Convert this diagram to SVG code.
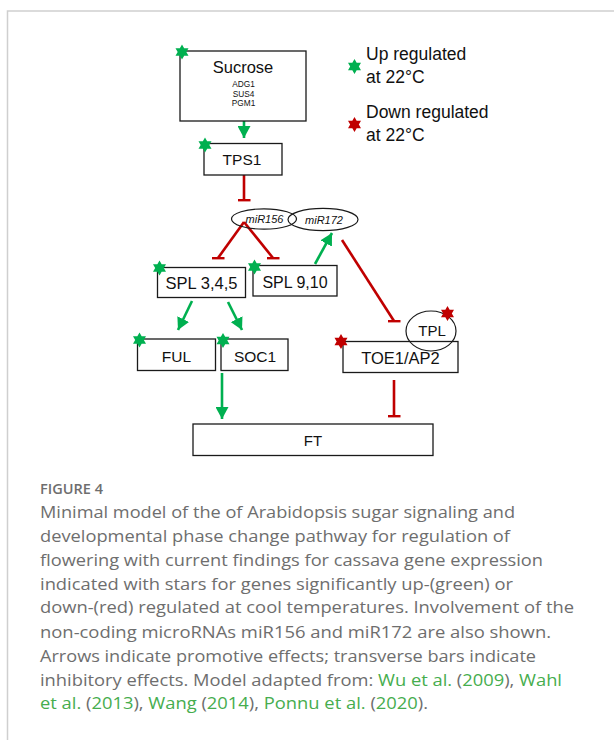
<svg xmlns="http://www.w3.org/2000/svg" xmlns:xlink="http://www.w3.org/1999/xlink" width="614" height="740" viewBox="0 0 614 740">
<style>
.box{fill:#fff;stroke:#1a1a1a;stroke-width:1.3}
.ell{fill:none;stroke:#1a1a1a;stroke-width:1.2}
.lbl{font-family:"Liberation Sans",Arial,sans-serif;fill:#111;text-anchor:middle}
.sm{font-family:"Liberation Sans",Arial,sans-serif;fill:#111;text-anchor:middle;font-size:8.3px}
.mir{font-family:"Liberation Sans",Arial,sans-serif;fill:#111;text-anchor:middle;font-style:italic;font-size:11px}
.leg{font-family:"Liberation Sans",Arial,sans-serif;fill:#111;font-size:17.5px}
.act{stroke:#00b050;stroke-width:2.6;fill:none;marker-end:url(#arrowG)}
.inh{stroke:#c00000;stroke-width:2.6;fill:none;marker-end:url(#barR)}
.cap{font-family:"Open Sans","Liberation Sans",sans-serif;fill:#6e6e6e;font-size:16px}
.lnk{fill:#46ad4e}
.up{fill:#00b050}
.dn{fill:#c00000}
</style>
<defs>
<path id="star" d="M0,-7.5 L2.165,-3.75 L6.5,-3.75 L4.33,0 L6.5,3.75 L2.165,3.75 L0,7.5 L-2.165,3.75 L-6.5,3.75 L-4.33,0 L-6.5,-3.75 L-2.165,-3.75 Z"/>
<marker id="arrowG" viewBox="0 0 12 13" markerUnits="userSpaceOnUse" markerWidth="12" markerHeight="13" refX="12" refY="6.5" orient="auto">
<path d="M0,0 L12,6.5 L0,13 Z" fill="#00b050"/>
</marker>
<marker id="barR" viewBox="-6.5 -1.5 13 3" markerUnits="userSpaceOnUse" markerWidth="13" markerHeight="3" refX="0" refY="0" orient="0">
<rect x="-6.5" y="-1.4" width="13" height="2.8" fill="#c00000"/>
</marker>
</defs>
<rect x="0" y="0" width="614" height="740" fill="#fff"/>
<path d="M7.5,740 V11 H614" fill="none" stroke="#cfcfcf" stroke-width="1.5"/>

<g id="connectors">
<line class="act" x1="244" y1="121" x2="244" y2="138"/>
<line class="inh" x1="244" y1="175" x2="244" y2="200"/>
<line class="inh" x1="244" y1="222" x2="218" y2="258"/>
<line class="inh" x1="244" y1="222" x2="273" y2="258"/>
<line class="act" x1="315" y1="264" x2="332" y2="233"/>
<line class="inh" x1="342" y1="240" x2="394" y2="321"/>
<line class="act" x1="192" y1="301" x2="178" y2="330"/>
<line class="act" x1="228" y1="302" x2="242" y2="330"/>
<line class="act" x1="222" y1="373" x2="222" y2="419"/>
<line class="inh" x1="394" y1="380" x2="394" y2="416"/>
</g>

<g id="sucrose">
<rect class="box" x="180" y="51" width="126" height="70"/>
<text class="lbl" x="243" y="73" font-size="16.5">Sucrose</text>
<text class="sm" x="243.5" y="87.3">ADG1</text>
<text class="sm" x="243.5" y="96.7">SUS4</text>
<text class="sm" x="243.5" y="106">PGM1</text>
<use href="#star" class="up" x="182" y="52"/>
</g>

<g id="tps1">
<rect class="box" x="204" y="143.5" width="78" height="31.5"/>
<text class="lbl" x="242" y="165" font-size="15.5">TPS1</text>
<use href="#star" class="up" x="205" y="145"/>
</g>

<g id="mir156">
<ellipse class="ell" cx="264" cy="219" rx="32.5" ry="10.2"/>
<text class="mir" x="264.5" y="222.5">miR156</text>
</g>

<g id="mir172">
<ellipse class="ell" cx="323" cy="219.5" rx="35" ry="11.2"/>
<text class="mir" x="324" y="223.5">miR172</text>
</g>

<g id="spl345">
<rect class="box" x="157.5" y="267.5" width="88" height="30"/>
<text class="lbl" x="201.5" y="288.5" font-size="16.5">SPL 3,4,5</text>
<use href="#star" class="up" x="159.5" y="268"/>
</g>

<g id="spl910">
<rect class="box" x="253" y="265.5" width="84" height="30.5"/>
<text class="lbl" x="295" y="288" font-size="16">SPL 9,10</text>
<use href="#star" class="up" x="254.5" y="267"/>
</g>

<g id="ful">
<rect class="box" x="137.5" y="339" width="78" height="31.5"/>
<text class="lbl" x="176.5" y="362" font-size="15.5">FUL</text>
<use href="#star" class="up" x="139.5" y="340"/>
</g>

<g id="soc1">
<rect class="box" x="221" y="339" width="67" height="31.5"/>
<text class="lbl" x="255" y="362" font-size="15.5">SOC1</text>
<use href="#star" class="up" x="223" y="340.5"/>
</g>

<g id="toe1ap2">
<rect class="box" x="343" y="341.5" width="115" height="31"/>
<text class="lbl" x="400.5" y="364" font-size="16.5">TOE1/AP2</text>
<use href="#star" class="dn" x="341" y="341.5"/>
</g>

<g id="tpl">
<ellipse class="ell" cx="431" cy="331" rx="25" ry="20"/>
<text class="lbl" x="432" y="336" font-size="15">TPL</text>
<use href="#star" class="dn" x="447.5" y="313.5"/>
</g>

<g id="ft">
<rect class="box" x="193" y="424" width="240" height="31.5"/>
<text class="lbl" x="313" y="446" font-size="15">FT</text>
</g>

<g id="legend">
<use href="#star" class="up" x="354.5" y="66.5"/>
<text class="leg" x="366" y="59.5">Up regulated</text>
<text class="leg" x="366" y="82.5">at 22°C</text>
<use href="#star" class="dn" x="354.5" y="124.5"/>
<text class="leg" x="366" y="118">Down regulated</text>
<text class="leg" x="366" y="140.5">at 22°C</text>
</g>

<g id="caption">
<text x="40" y="493.5" font-family="'Open Sans','Liberation Sans',sans-serif" font-size="13.5" font-weight="600" fill="#6e6e6e" textLength="63" lengthAdjust="spacingAndGlyphs">FIGURE 4</text>
<text class="cap" x="40" y="518.3" textLength="475" lengthAdjust="spacingAndGlyphs">Minimal model of the of Arabidopsis sugar signaling and</text>
<text class="cap" x="40" y="541.7" textLength="470" lengthAdjust="spacingAndGlyphs">developmental phase change pathway for regulation of</text>
<text class="cap" x="40" y="565.7" textLength="503" lengthAdjust="spacingAndGlyphs">flowering with current findings for cassava gene expression</text>
<text class="cap" x="40" y="590" textLength="473" lengthAdjust="spacingAndGlyphs">indicated with stars for genes significantly up-(green) or</text>
<text class="cap" x="40" y="613.3" textLength="534" lengthAdjust="spacingAndGlyphs">down-(red) regulated at cool temperatures. Involvement of the</text>
<text class="cap" x="40" y="637.7" textLength="511" lengthAdjust="spacingAndGlyphs">non-coding microRNAs miR156 and miR172 are also shown.</text>
<text class="cap" x="40" y="661.7" textLength="496" lengthAdjust="spacingAndGlyphs">Arrows indicate promotive effects; transverse bars indicate</text>
<text class="cap" x="40" y="685.7" textLength="522" lengthAdjust="spacingAndGlyphs">inhibitory effects. Model adapted from: <tspan class="lnk">Wu et al.</tspan> (<tspan class="lnk">2009</tspan>), <tspan class="lnk">Wahl</tspan></text>
<text class="cap" x="40" y="709.3" textLength="388" lengthAdjust="spacingAndGlyphs"><tspan class="lnk">et al.</tspan> (<tspan class="lnk">2013</tspan>), <tspan class="lnk">Wang</tspan> (<tspan class="lnk">2014</tspan>), <tspan class="lnk">Ponnu et al.</tspan> (<tspan class="lnk">2020</tspan>).</text>
</g>
</svg>
